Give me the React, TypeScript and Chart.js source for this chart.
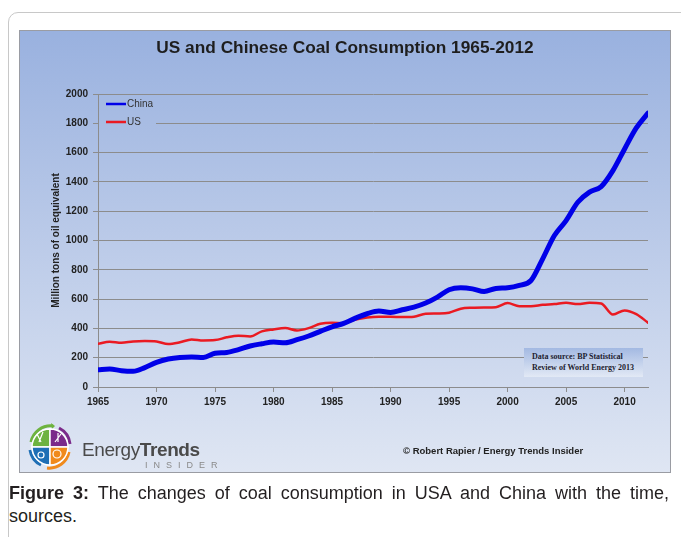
import React, { useEffect, useRef } from "react";
import { Chart, registerables } from "chart.js";

Chart.register(...registerables);

const years = [
  1965, 1966, 1967, 1968, 1969, 1970, 1971, 1972, 1973, 1974, 1975, 1976,
  1977, 1978, 1979, 1980, 1981, 1982, 1983, 1984, 1985, 1986, 1987, 1988,
  1989, 1990, 1991, 1992, 1993, 1994, 1995, 1996, 1997, 1998, 1999, 2000,
  2001, 2002, 2003, 2004, 2005, 2006, 2007, 2008, 2009, 2010, 2011, 2012,
];
const chinaValues = [
  118, 123, 111, 107, 132, 168, 191, 202, 205, 202, 230, 236,
  255, 280, 295, 307, 302, 323, 348, 380, 411, 434, 470, 500,
  518, 509, 527, 545, 573, 614, 664, 677, 670, 652, 673, 677,
  693, 727, 875, 1034, 1136, 1261, 1330, 1368, 1477, 1625, 1768, 1870,
];
const usValues = [
  295, 309, 302, 311, 314, 311, 293, 305, 325, 318, 320, 339,
  350, 345, 380, 393, 402, 386, 402, 432, 439, 436, 461, 475,
  480, 480, 477, 480, 500, 502, 507, 534, 541, 543, 545, 573,
  552, 552, 561, 566, 575, 566, 575, 570, 495, 523, 498, 439,
];
const xTickYears = [1965, 1970, 1975, 1980, 1985, 1990, 1995, 2000, 2005, 2010];
const seriesNames = ["China", "US"];
const chartTitle = "US and Chinese Coal Consumption 1965-2012";
const yAxisTitle = "Million tons of oil equivalent";
const sourceLines = ["Data source: BP Statistical", "Review of World Energy 2013"];
const copyrightText = "\u00A9 Robert Rapier / Energy Trends Insider";
const captionBold = "Figure 3:";
const captionRest = " The changes of coal consumption in USA and China with the time,";
const captionLine2 = "sources.";

const SANS = "'Liberation Sans', Arial, Helvetica, sans-serif";
const W = 652;
const H = 443;
const PLOT_LEFT = 79;
const PLOT_RIGHT = 629;
const PLOT_TOP = 64;
const PLOT_BOTTOM = 357;

function panelGradient(ctx: CanvasRenderingContext2D) {
  const g = ctx.createLinearGradient(0, 0, 0, H);
  g.addColorStop(0, "#99b1df");
  g.addColorStop(0.45, "#b9c9e8");
  g.addColorStop(1, "#dfe6f3");
  return g;
}

const bgPlugin = {
  id: "panelBg",
  beforeDraw(chart: any) {
    const ctx = chart.ctx as CanvasRenderingContext2D;
    ctx.save();
    ctx.fillStyle = panelGradient(ctx);
    ctx.fillRect(0, 0, chart.width, chart.height);
    ctx.strokeStyle = "#9a9ca3";
    ctx.lineWidth = 1;
    ctx.strokeRect(0.5, 0.5, chart.width - 1, chart.height - 1);
    ctx.fillStyle = "#1e1e1e";
    ctx.font = `bold 17.3px ${SANS}`;
    ctx.textAlign = "center";
    ctx.textBaseline = "middle";
    ctx.fillText(chartTitle, chart.width / 2, 18);
    ctx.restore();
  },
};

const legendPlugin = {
  id: "inlineLegend",
  afterDraw(chart: any) {
    const ctx = chart.ctx as CanvasRenderingContext2D;
    const { left, top } = chart.chartArea;
    ctx.save();
    ctx.fillStyle = panelGradient(ctx);
    ctx.fillRect(left + 1, top + 3, 57, 33);
    chart.data.datasets.forEach((ds: any, i: number) => {
      const y = top + 10 + i * 18;
      ctx.strokeStyle = ds.borderColor;
      ctx.lineWidth = 2.5;
      ctx.beginPath();
      ctx.moveTo(left + 8, y);
      ctx.lineTo(left + 28, y);
      ctx.stroke();
      ctx.fillStyle = "#333";
      ctx.font = `10px ${SANS}`;
      ctx.textBaseline = "middle";
      ctx.textAlign = "left";
      ctx.fillText(ds.label, left + 29, y + 0.5);
    });
    ctx.restore();
  },
};

function Logo() {
  const cx = 25;
  const cy = 25;
  const r = 18;
  const quad = (a0: number, a1: number) => {
    const x0 = cx + r * Math.cos(a0);
    const y0 = cy + r * Math.sin(a0);
    const x1 = cx + r * Math.cos(a1);
    const y1 = cy + r * Math.sin(a1);
    return `M${cx},${cy} L${x0},${y0} A${r},${r} 0 0 1 ${x1},${y1} Z`;
  };
  const P = Math.PI;
  return (
    <svg width={50} height={50} viewBox="0 0 50 50">
      <path d="M6,20 A20,20 0 0 1 28,4" stroke="#6db33f" strokeWidth={3} fill="none" />
      <path d="M30,4 L26,1 L27,7 Z" fill="#6db33f" />
      <path d="M44,30 A20,20 0 0 1 22,46" stroke="#f08a1c" strokeWidth={3} fill="none" />
      <path d="M5,28 A20,20 0 0 0 16,43" stroke="#1f6fb5" strokeWidth={3} fill="none" />
      <path d="M34,6 A20,20 0 0 1 45,22" stroke="#7b2a8a" strokeWidth={3} fill="none" />
      <path d={quad(P, 1.5 * P)} fill="#6db33f" stroke="#fff" strokeWidth={1.5} />
      <path d={quad(1.5 * P, 2 * P)} fill="#7b2a8a" stroke="#fff" strokeWidth={1.5} />
      <path d={quad(0.5 * P, P)} fill="#1f6fb5" stroke="#fff" strokeWidth={1.5} />
      <path d={quad(0, 0.5 * P)} fill="#f08a1c" stroke="#fff" strokeWidth={1.5} />
      <path d="M14,20 L18,10 M16,20 L12,12" stroke="#fff" strokeWidth={1.2} />
      <path d="M30,20 L36,12 M33,20 L33,11" stroke="#fff" strokeWidth={1.2} />
      <circle cx={16} cy={33} r={3} fill="none" stroke="#fff" strokeWidth={1.2} />
      <circle cx={32} cy={32} r={4} fill="none" stroke="#fff" strokeWidth={1.2} />
    </svg>
  );
}

export default function App() {
  const canvasRef = useRef<HTMLCanvasElement | null>(null);

  useEffect(() => {
    const canvas = canvasRef.current;
    if (!canvas) return;
    const chart = new Chart(canvas, {
      type: "line",
      data: {
        datasets: [
          {
            label: seriesNames[0],
            data: years.map((yr, i) => ({ x: yr, y: chinaValues[i] })),
            borderColor: "#0000e8",
            borderWidth: 5,
            pointRadius: 0,
            cubicInterpolationMode: "monotone",
            borderCapStyle: "round",
            borderJoinStyle: "round",
            fill: false,
          },
          {
            label: seriesNames[1],
            data: years.map((yr, i) => ({ x: yr, y: usValues[i] })),
            borderColor: "#ea1a22",
            borderWidth: 2.5,
            pointRadius: 0,
            cubicInterpolationMode: "monotone",
            borderCapStyle: "round",
            borderJoinStyle: "round",
            fill: false,
          },
        ],
      },
      options: {
        responsive: false,
        animation: false,
        events: [],
        layout: { padding: { left: 0, right: W - PLOT_RIGHT, top: PLOT_TOP, bottom: 0 } },
        plugins: {
          legend: { display: false },
          tooltip: { enabled: false },
          title: { display: false },
        },
        scales: {
          x: {
            type: "linear",
            min: years[0],
            max: years[years.length - 1],
            afterFit: (s: any) => {
              s.height = H - PLOT_BOTTOM;
            },
            afterBuildTicks: (s: any) => {
              s.ticks = xTickYears.map((v) => ({ value: v }));
            },
            ticks: {
              autoSkip: false,
              maxRotation: 0,
              padding: 4,
              color: "#222",
              font: { family: SANS, size: 10, weight: "bold" },
              callback: (v: any) => String(v),
            },
            grid: { drawOnChartArea: false, drawTicks: true, tickLength: 5, color: "#8c8c8c" },
            border: { color: "#8c8c8c" },
          },
          y: {
            min: 0,
            max: 2000,
            afterFit: (s: any) => {
              s.width = PLOT_LEFT;
            },
            ticks: {
              stepSize: 200,
              padding: 5,
              color: "#222",
              font: { family: SANS, size: 10, weight: "bold" },
              callback: (v: any) => String(v),
            },
            grid: { color: "#8c8c8c", tickLength: 5 },
            border: { color: "#8c8c8c" },
            title: {
              display: true,
              text: yAxisTitle,
              color: "#222",
              font: { family: SANS, size: 10, weight: "bold" },
              padding: { top: 31, bottom: 0 },
            },
          },
        },
      },
      plugins: [bgPlugin, legendPlugin],
    } as any);
    return () => chart.destroy();
  }, []);

  return (
    <div
      style={{
        position: "absolute",
        left: 0,
        top: 0,
        width: 681,
        height: 537,
        overflow: "hidden",
        background: "#fff",
        fontFamily: SANS,
      }}
    >
      <div
        style={{
          position: "absolute",
          left: 8,
          top: 12,
          width: 720,
          height: 600,
          border: "1px solid #c8c8c8",
          borderRadius: 10,
          boxSizing: "border-box",
        }}
      />
      <canvas
        ref={canvasRef}
        width={W}
        height={H}
        style={{ position: "absolute", left: 19, top: 30, width: W, height: H }}
      />
      <div
        style={{
          position: "absolute",
          left: 524,
          top: 348,
          width: 119,
          height: 29,
          background: "linear-gradient(to bottom, #a3b9e2, #e2e9f5)",
          boxSizing: "border-box",
          paddingLeft: 8,
          paddingTop: 3,
          fontFamily: "'Liberation Serif', 'Times New Roman', serif",
          fontWeight: "bold",
          fontSize: 8,
          lineHeight: "11px",
          color: "#1c1c30",
          whiteSpace: "nowrap",
        }}
      >
        <div>{sourceLines[0]}</div>
        <div>{sourceLines[1]}</div>
      </div>
      <div style={{ position: "absolute", left: 25, top: 422 }}>
        <Logo />
      </div>
      <div
        style={{
          position: "absolute",
          left: 82,
          top: 440,
          fontSize: 19,
          lineHeight: "19px",
          color: "#4a4a4a",
          letterSpacing: -0.4,
          whiteSpace: "nowrap",
        }}
      >
        <span>Energy</span>
        <span style={{ fontWeight: "bold" }}>Trends</span>
      </div>
      <div
        style={{
          position: "absolute",
          left: 145,
          top: 460,
          fontSize: 9,
          lineHeight: "10px",
          color: "#8a8a8a",
          letterSpacing: 6,
          whiteSpace: "nowrap",
        }}
      >
        INSIDER
      </div>
      <div
        style={{
          position: "absolute",
          left: 403,
          top: 445,
          fontSize: 9.5,
          lineHeight: "12px",
          fontWeight: "bold",
          color: "#222",
          whiteSpace: "nowrap",
        }}
      >
        {copyrightText}
      </div>
      <div
        style={{
          position: "absolute",
          left: 9,
          top: 482,
          width: 660,
          fontSize: 18,
          lineHeight: "23px",
          color: "#231f20",
          whiteSpace: "nowrap",
          textAlign: "justify",
          textAlignLast: "justify",
        }}
      >
        <span style={{ fontWeight: "bold" }}>{captionBold}</span>
        {captionRest}
      </div>
      <div
        style={{
          position: "absolute",
          left: 9,
          top: 505,
          fontSize: 18,
          lineHeight: "23px",
          color: "#231f20",
          whiteSpace: "nowrap",
        }}
      >
        {captionLine2}
      </div>
    </div>
  );
}
